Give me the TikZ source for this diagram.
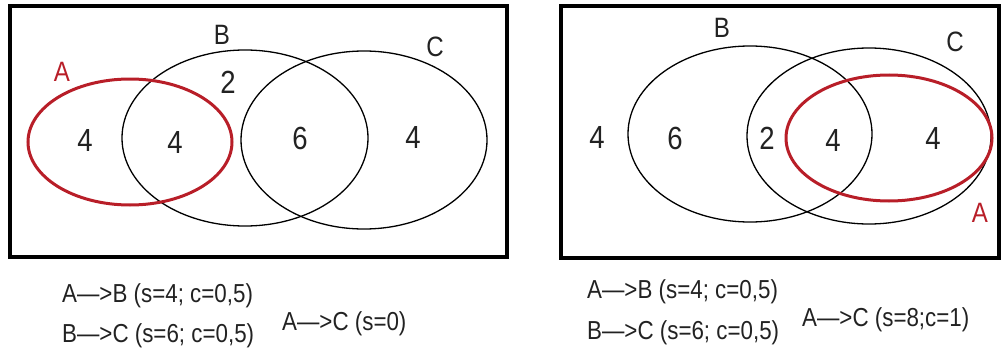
\documentclass[tikz,border=0pt]{standalone}
\usepackage{fontspec}
\setmainfont{Liberation Sans}
\newfontfamily\narrowsans[FakeStretch=0.86]{Liberation Sans}
\usepackage{xcolor}
\usepackage{tikz}
\definecolor{setred}{HTML}{B81E28}
\definecolor{inkgrey}{HTML}{222222}

\begin{document}
\begin{tikzpicture}[
  x=1pt, y=-1pt,
  frame/.style={draw=black, line width=3.5pt},
  setline/.style={draw=black, line width=1.3pt},
  setA/.style={draw=setred, line width=3pt},
  digit/.style={font=\narrowsans\fontsize{32}{34}\selectfont, text=inkgrey, inner sep=0pt},
  setname/.style={font=\narrowsans\fontsize{28}{30}\selectfont, text=inkgrey, inner sep=0pt},
  rule/.style={font=\narrowsans\fontsize{26}{28}\selectfont, text=inkgrey, inner sep=0pt, anchor=west}
]
\useasboundingbox (0,0) rectangle (1003,353);

% left: A and C disjoint
\draw[frame] (10,6) rectangle (507,257);
\draw[setline] (245,138) ellipse [x radius=123pt, y radius=88pt];
\draw[setline] (364,140) ellipse [x radius=123pt, y radius=89pt];
\draw[setA] (130,142) ellipse [x radius=102pt, y radius=63pt];
\node[setname, text=setred] (la) at (62,72) {A};
\node[setname] (lb) at (222,35) {B};
\node[setname] (lc) at (435,47) {C};
\node[digit] (l2) at (228,82) {2};
\node[digit] (l4a) at (85,140) {4};
\node[digit] (l4ab) at (175,142) {4};
\node[digit] (l6) at (300,138) {6};
\node[digit] (l4c) at (413,137) {4};

% right: A inside C
\draw[frame] (561,6) rectangle (999,258);
\draw[setline] (750,134) ellipse [x radius=122pt, y radius=88pt];
\draw[setline] (869,136) ellipse [x radius=122pt, y radius=88pt];
\draw[setA] (889,138) ellipse [x radius=103pt, y radius=63pt];
\node[setname] (rb) at (722,28) {B};
\node[setname] (rc) at (955,42) {C};
\node[setname, text=setred] (ra) at (980,213) {A};
\node[digit] (r4o) at (597,137) {4};
\node[digit] (r6) at (675,138) {6};
\node[digit] (r2) at (767,138) {2};
\node[digit] (r4abc) at (833,140) {4};
\node[digit] (r4ac) at (933,138) {4};

% rules under each picture
\node[rule] (lab) at (62,296) {A—>B (s=4; c=0,5)};
\node[rule] (lbc) at (62,336) {B—>C (s=6; c=0,5)};
\node[rule] (lac) at (282,324) {A—>C (s=0)};
\node[rule] (rab) at (587,292) {A—>B (s=4; c=0,5)};
\node[rule] (rbc) at (587,333) {B—>C (s=6; c=0,5)};
\node[rule] (rac) at (802,320) {A—>C (s=8;c=1)};
\end{tikzpicture}
\end{document}
